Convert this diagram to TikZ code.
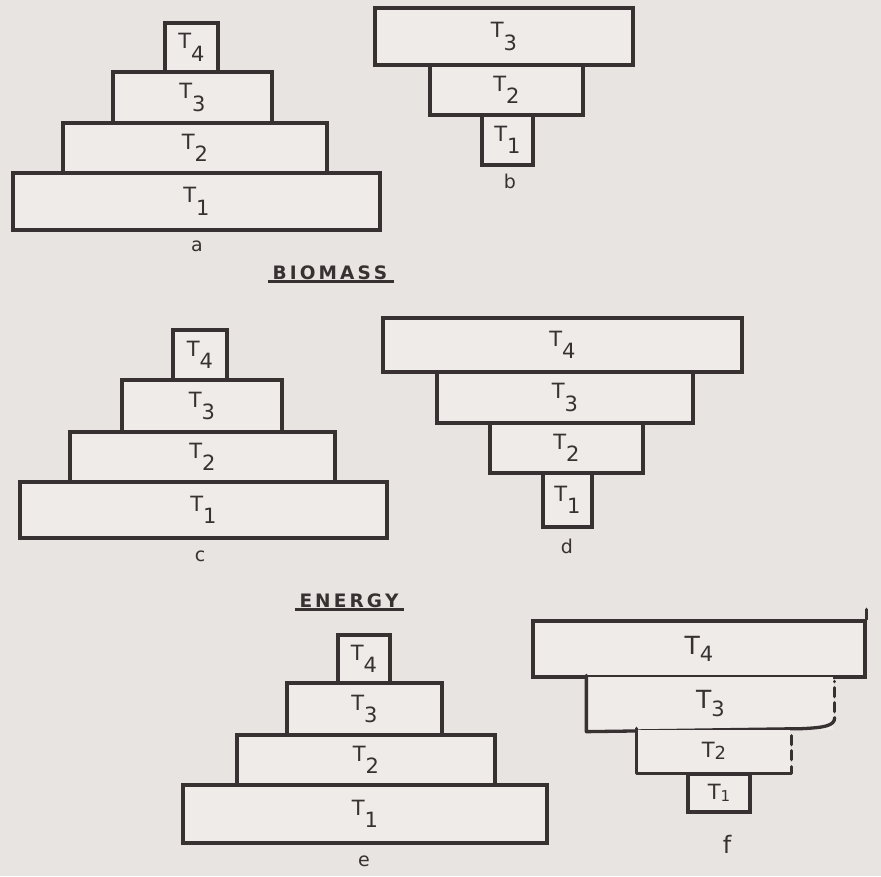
\documentclass[tikz,border=0pt]{standalone}
\usepackage{fontspec}
\setmainfont{DejaVu Sans}
\definecolor{paper}{RGB}{232,228,226}
\definecolor{boxin}{RGB}{238,235,233}
\definecolor{ink}{RGB}{55,49,49}
\newcommand\tlev[1]{T\raisebox{-0.6em}{#1}}
\tikzset{
  tier/.style={draw=ink, line width=3.3pt, fill=boxin, rectangle, inner sep=0pt,
    text=ink, font=\fontsize{21}{24}\selectfont},
  tiernd/.style={tier, draw=none},
  edge/.style={draw=ink, line width=3.3pt, line cap=round, line join=round},
  dashedge/.style={edge, dashed, dash pattern=on 9pt off 6pt},
  letterlbl/.style={text=ink, font=\fontsize{19}{22}\selectfont},
  title/.style={text=ink, font=\bfseries\fontsize{18.5}{22}\selectfont, inner sep=1pt},
  uline/.style={draw=ink, line width=2.6pt}
}
\begin{document}
\begin{tikzpicture}[x=1pt,y=-1pt]
\fill[paper] (0,0) rectangle (881,876);
\useasboundingbox (0,0) rectangle (881,876);
% ---- a ----
\node[tier, minimum width=367pt, minimum height=57pt] (a1) at (196.5,201.5) {\tlev{1}};
\node[tier, minimum width=264pt, minimum height=50pt] (a2) at (195,148) {\tlev{2}};
\node[tier, minimum width=159pt, minimum height=51pt] (a3) at (192.5,97.5) {\tlev{3}};
\node[tier, minimum width=53pt, minimum height=49pt] (a4) at (191.5,47.5) {\tlev{4}};
\node[letterlbl] (la) at (197,246) {a};
% ---- b ----
\node[tier, minimum width=258pt, minimum height=57pt] (b3) at (504,36.5) {\tlev{3}};
\node[tier, minimum width=153pt, minimum height=50pt] (b2) at (506.5,90) {\tlev{2}};
\node[tier, minimum width=51pt, minimum height=50pt] (b1) at (507.5,140) {\tlev{1}};
\node[letterlbl] (lb) at (510,181) {b};
% ---- BIOMASS ----
\node[title] (bio) at (330,273) {B\,I\,O\,M\,A\,S\,S};
\draw[uline] ([xshift=-4pt]bio.south west) -- ([xshift=6pt]bio.south east);
% ---- c ----
\node[tier, minimum width=367pt, minimum height=56pt] (c1) at (203.5,510) {\tlev{1}};
\node[tier, minimum width=265pt, minimum height=50pt] (c2) at (202.5,457) {\tlev{2}};
\node[tier, minimum width=160pt, minimum height=52pt] (c3) at (202,406) {\tlev{3}};
\node[tier, minimum width=54pt, minimum height=50pt] (c4) at (200,355) {\tlev{4}};
\node[letterlbl] (lc) at (200,556) {c};
% ---- d ----
\node[tier, minimum width=359pt, minimum height=54pt] (d4) at (562.5,345) {\tlev{4}};
\node[tier, minimum width=256pt, minimum height=51pt] (d3) at (565,397.5) {\tlev{3}};
\node[tier, minimum width=153pt, minimum height=50pt] (d2) at (566.5,448) {\tlev{2}};
\node[tier, minimum width=49pt, minimum height=54pt] (d1) at (567.5,500) {\tlev{1}};
\node[letterlbl] (ld) at (567,546) {d};
% ---- ENERGY ----
\node[title] (ene) at (349,601) {E\,N\,E\,R\,G\,Y};
\draw[uline] ([xshift=-3pt]ene.south west) -- ([xshift=4pt]ene.south east);
% ---- e ----
\node[tier, minimum width=364pt, minimum height=58pt] (e1) at (365,814) {\tlev{1}};
\node[tier, minimum width=258pt, minimum height=50pt] (e2) at (366,760) {\tlev{2}};
\node[tier, minimum width=155pt, minimum height=52pt] (e3) at (364.5,709) {\tlev{3}};
\node[tier, minimum width=52pt, minimum height=48pt] (e4) at (364,659) {\tlev{4}};
\node[letterlbl] (le) at (364,861) {e};
% ---- f ----
\node[tier, minimum width=332pt, minimum height=56pt, font=\fontsize{25}{28}\selectfont] (f4) at (699,649) {T\raisebox{-0.3em}{\fontsize{21}{24}\selectfont 4}};
\draw[edge] (f4.north east) -- ([yshift=10pt]f4.north east);
\node[tiernd, minimum width=245pt, minimum height=53pt, font=\fontsize{25}{28}\selectfont] (f3) at (710.5,703.5) {T\raisebox{-0.3em}{\fontsize{21}{24}\selectfont 3}};
\draw[edge] (f3.north west) -- (f3.south west) -- ([xshift=-33pt,yshift=3pt]f3.south east)
  .. controls ([xshift=-10pt,yshift=4pt]f3.south east) and ([yshift=6pt]f3.south east) .. ([yshift=14pt]f3.south east);
\draw[dashedge] ([yshift=20pt]f3.south east) -- ([yshift=-6pt]f3.north east);
\node[tiernd, minimum width=152pt, minimum height=42pt, font=\fontsize{21}{24}\selectfont] (f2) at (714,751) {T\raisebox{-0.1em}{\fontsize{18}{20}\selectfont 2}};
\draw[edge] (f2.north west) -- (f2.south west) -- (f2.south east) -- ([yshift=7pt]f2.south east);
\draw[dashedge] ([yshift=14pt]f2.south east) -- ([yshift=-3pt]f2.north east);
\node[tier, minimum width=62pt, minimum height=38pt, font=\fontsize{21}{24}\selectfont] (f1) at (719,793) {T\raisebox{-0.1em}{\fontsize{15}{17}\selectfont 1}};
\node[letterlbl, font=\fontsize{24}{28}\selectfont] (lf) at (727,844) {f};
\end{tikzpicture}
\end{document}
